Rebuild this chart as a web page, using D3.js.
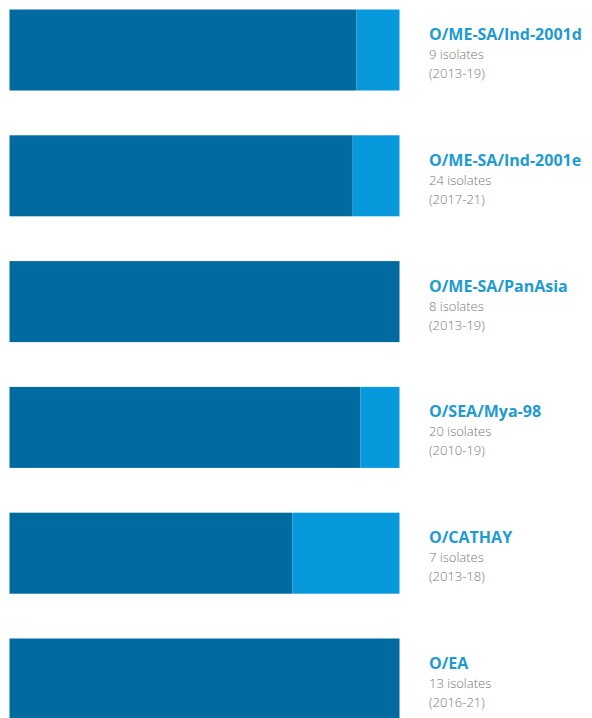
<!DOCTYPE html>
<html>
<head>
<meta charset="utf-8">
<script src="https://cdn.jsdelivr.net/npm/d3@7"></script>
<style>
  html, body { margin: 0; padding: 0; background: #ffffff; }
  svg { display: block; }
</style>
</head>
<body>
<svg id="chart" width="592" height="718"></svg>
<script>
const lineages = ["O/ME-SA/Ind-2001d", "O/ME-SA/Ind-2001e", "O/ME-SA/PanAsia", "O/SEA/Mya-98", "O/CATHAY", "O/EA"];
const isolateLabels = ["9 isolates", "24 isolates", "8 isolates", "20 isolates", "7 isolates", "13 isolates"];
const periodLabels = ["(2013-19)", "(2017-21)", "(2013-19)", "(2010-19)", "(2013-18)", "(2016-21)"];
const darkShare = [89, 88, 100, 90, 72.5, 100];
const lightShare = [11, 12, 0, 10, 27.5, 0];

const svg = d3.select("#chart");

const y = d3.scaleBand().domain(lineages).range([9.5, 719.5]).paddingInner(0.356).paddingOuter(0);
const x = d3.scaleLinear().domain([0, 100]).range([9.5, 399.5]);

const rows = lineages.map((name, i) => ({ name, dark: darkShare[i], light: lightShare[i], iso: isolateLabels[i], per: periodLabels[i] }));
const stacked = d3.stack().keys(["dark", "light"])(rows);
const colors = { dark: "#016a9e", light: "#0799dc" };

svg.append("g").selectAll("g")
  .data(stacked)
  .join("g")
  .attr("fill", d => colors[d.key])
  .selectAll("rect")
  .data(d => d)
  .join("rect")
  .attr("x", d => x(d[0]))
  .attr("width", d => Math.max(0, x(d[1]) - x(d[0])))
  .attr("y", d => y(d.data.name))
  .attr("height", y.bandwidth());

const labels = svg.append("g").selectAll("g")
  .data(rows)
  .join("g")
  .attr("transform", d => `translate(429,${y(d.name)})`)
  .style("font-family", "'Open Sans', sans-serif");

labels.append("text")
  .attr("y", 30.5)
  .attr("font-size", 16)
  .attr("font-weight", 700)
  .attr("fill", "#1d9bd2")
  .text(d => d.name);
labels.append("text")
  .attr("y", 49.5)
  .attr("font-size", 13)
  .attr("font-weight", 300)
  .attr("fill", "#777777")
  .text(d => d.iso);
labels.append("text")
  .attr("y", 68.5)
  .attr("font-size", 13)
  .attr("font-weight", 300)
  .attr("fill", "#777777")
  .text(d => d.per);
</script>
</body>
</html>
